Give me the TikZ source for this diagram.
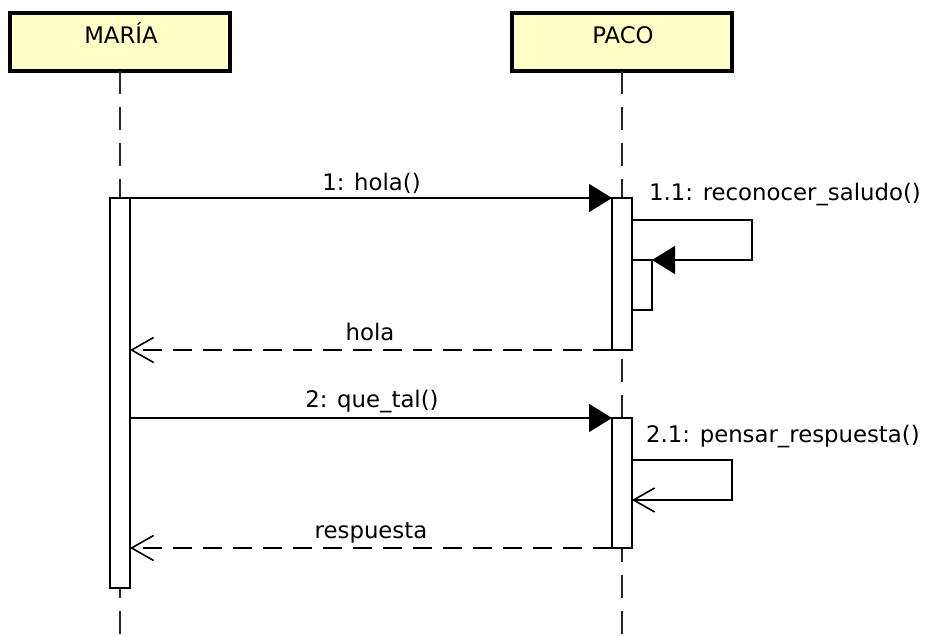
\documentclass[tikz,border=0pt]{standalone}
\usepackage{fontspec}
\setmainfont{DejaVu Sans}
\usetikzlibrary{arrows.meta}
\definecolor{partfill}{RGB}{255,255,200}
\begin{document}
\begin{tikzpicture}[x=1pt,y=-1pt,
  font=\fontsize{22.8}{27}\selectfont,
  participant/.style={draw=black,line width=3.6pt,fill=partfill,minimum width=220pt,minimum height=58pt,inner sep=0pt,outer sep=0pt},
  lifeline/.style={line width=1.7pt,black!85,dash pattern=on 23pt off 13pt},
  actbox/.style={draw=black,line width=2.4pt,fill=white,minimum width=20pt,inner sep=0pt,outer sep=0pt},
  msg/.style={line width=1.4pt,-{Triangle[length=23pt,width=28pt]}},
  ret/.style={line width=1.4pt,dash pattern=on 19pt off 11pt,-{Straight Barb[length=22pt,width=25pt,line width=1.6pt]}},
  selfret/.style={line width=1.4pt,-{Straight Barb[length=21pt,width=24pt,line width=1.6pt]}},
  lbl/.style={anchor=base,inner sep=0pt}]
\useasboundingbox (0,0) rectangle (938,636);

% participants
\node[participant] (maria) at (120,42) {};
\node[lbl] (mariaT) at (121,44) {MARÍA};
\node[participant] (paco) at (622,42) {};
\node[lbl] (pacoT) at (623,44) {PACO};

% lifelines
\coordinate (mEnd) at (120,636);
\coordinate (pEnd) at (622,636);
\draw[lifeline] (maria.south) -- (mEnd);
\draw[lifeline] (paco.south) -- (pEnd);

% activations
\node[actbox,minimum height=390pt] (actM) at (120,393) {};
\node[actbox,minimum height=152pt] (actP1) at (622,274) {};
\node[actbox,minimum height=50pt] (actP1n) at (642,285) {};
\node[actbox,minimum height=130pt] (actP2) at (622,483) {};

% message 1
\draw[msg] (actM.north east) -- (actP1.north west);
\node[lbl] (l1) at (371.5,191) {1: hola()};

% self message 1.1
\coordinate (loop1a) at (752,220);
\coordinate (loop1b) at (752,260);
\draw[msg] (actP1.east |- loop1a) -- (loop1a) -- (loop1b) -- (actP1n.north east);
\node[lbl,anchor=base west] (l11) at (649,201) {1.1: reconocer\_saludo()};

% return hola
\draw[ret] (actP1.south west) -- (actM.east |- actP1.south west);
\node[lbl] (lh) at (370,341) {hola};

% message 2
\draw[msg] (actM.east |- actP2.north) -- (actP2.north west);
\node[lbl] (l2) at (372,408) {2: que\_tal()};

% self message 2.1
\coordinate (loop2a) at (732,460);
\coordinate (loop2b) at (732,500);
\draw[selfret] (actP2.east |- loop2a) -- (loop2a) -- (loop2b) -- (actP2.east |- loop2b);
\node[lbl,anchor=base west] (l21) at (646,443) {2.1: pensar\_respuesta()};

% return respuesta
\draw[ret] (actP2.south west) -- (actM.east |- actP2.south west);
\node[lbl] (lr) at (371,538) {respuesta};
\end{tikzpicture}
\end{document}
